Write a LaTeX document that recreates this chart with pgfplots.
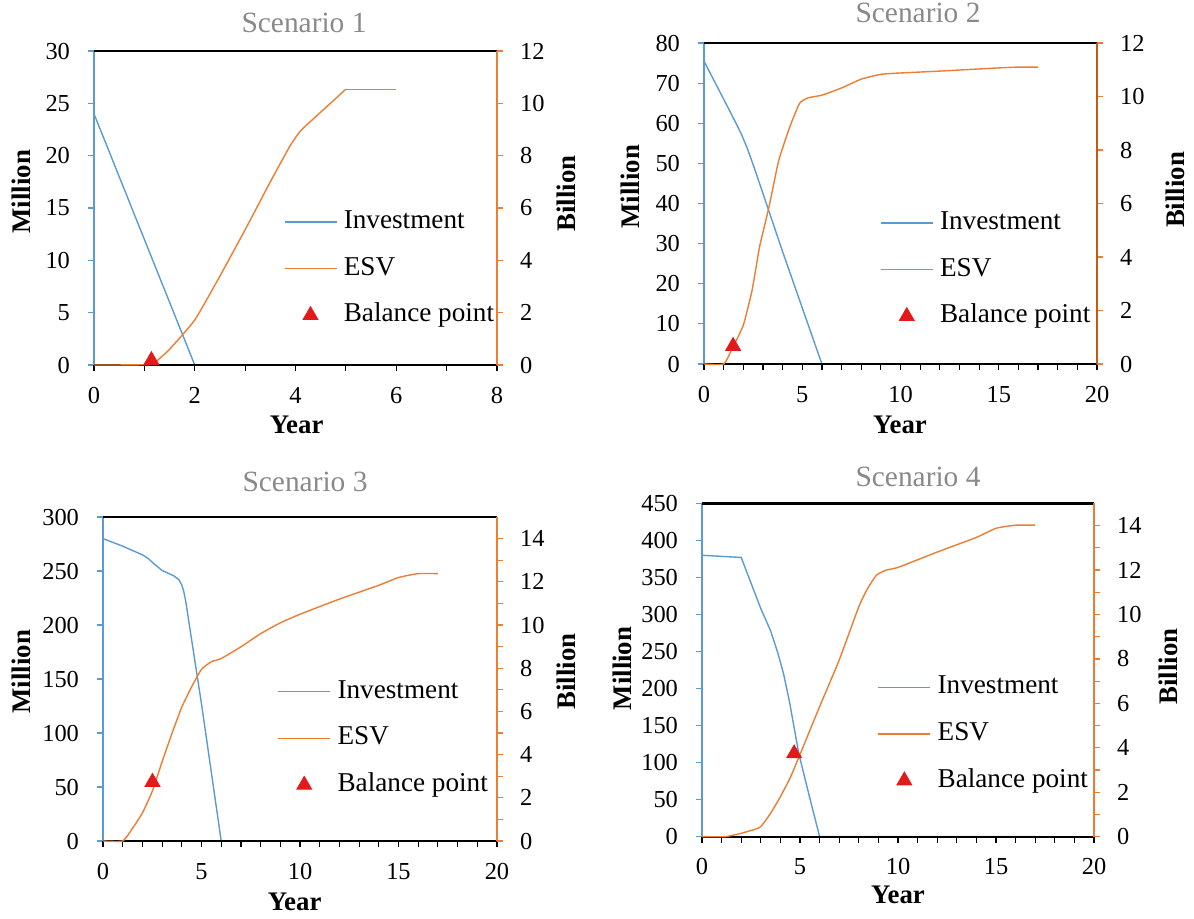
\documentclass[border=0pt]{standalone}
\usepackage{fontspec}
\setmainfont{Liberation Serif}
\usepackage{pgfplots}
\pgfplotsset{compat=1.18}
\definecolor{invblue}{RGB}{91,155,213}
\definecolor{esvorange}{RGB}{237,125,49}
\definecolor{darkor}{RGB}{197,90,17}
\definecolor{balred}{RGB}{227,26,28}
\definecolor{titlegray}{RGB}{137,137,137}
\pgfplotsset{
  base/.style={scale only axis, anchor=south west, tick align=outside,
    major tick length=3pt, minor tick length=3pt,
    /pgf/number format/assume math mode=true,
    ticklabel style={font=\fontsize{12.2}{14}\selectfont},
    clip=false},
  leftax/.style={base, axis x line=none, axis y line*=left,
    y axis line style={draw=invblue, line width=1pt},
    ytick style={draw=invblue, line width=0.6pt},
    yticklabel style={xshift=-5.5pt}},
  rightax/.style={base, axis x line=box, axis y line*=right,
    xtick pos=left, xticklabel pos=left,
    x axis line style={draw=black, line width=1.1pt},
    xtick style={draw=black, line width=0.6pt},
    y axis line style={draw=esvorange, line width=0.8pt},
    ytick style={draw=esvorange, line width=0.6pt},
    xticklabel style={yshift=-4.5pt},
    yticklabel style={xshift=5pt},
    legend cell align=left,
    legend style={draw=none, fill=none, inner sep=0pt, anchor=west,
      row sep=10.8pt, font=\fontsize{13.6}{16}\selectfont,
      nodes={inner sep=0pt, text height=9.5pt, text depth=3pt},
      /tikz/every odd column/.append style={column sep=3.3pt}}},
  invline/.style={color=invblue, line width=0.7pt, sharp plot,
    legend image code/.code={\draw[##1] (0pt,0pt) -- (26pt,0pt);}},
  esvline/.style={color=esvorange, line width=0.7pt, smooth, tension=0.3,
    legend image code/.code={\draw[##1] (0pt,0pt) -- (26pt,0pt);}},
  balmark/.style={only marks, mark=triangle*, mark size=4.3pt,
    mark options={fill=balred, draw=balred},
    legend image code/.code={\draw[##1] plot coordinates {(13pt,0pt)};}},
}
\newcommand{\ttl}[2]{\node[font=\fontsize{14.7}{17}\selectfont, text=titlegray] at (#1) {#2};}
\newcommand{\lab}[3]{\node[font=\fontsize{13.4}{16}\selectfont\bfseries, rotate=#3] at (#1) {#2};}
\begin{document}
\begin{tikzpicture}
\useasboundingbox (0pt,0pt) rectangle (597pt,-459pt);

% ---------------- Scenario 1 ----------------
\begin{axis}[leftax, at={(47pt,-182.5pt)}, width=201.5pt, height=157pt,
  xmin=0, xmax=8, ymin=0, ymax=30, ytick={0,5,...,30}]
\addplot[invline] coordinates {(0,24) (1,12) (2,0) (3,0) (4,0) (5,0) (6,0)};
\end{axis}
\begin{axis}[rightax, at={(47pt,-182.5pt)}, width=201.5pt, height=157pt,
  xmin=0, xmax=8, ymin=0, ymax=12, xtick={0,2,...,8}, minor x tick num=1,
  ytick={0,2,...,12}, legend style={at={(0.47,0.307)}}]
\addlegendimage{invline}
\addlegendentry{Investment}
\addplot[esvline] coordinates {(0,0) (1.1,0.02) (1.3,0.25) (1.5,0.6) (2,1.72) (2.5,3.4) (3,5.17) (3.5,7.0) (3.9,8.4) (4.1,8.95) (4.35,9.4) (5,10.54)};
\addlegendentry{ESV}
\addplot[esvline, forget plot, sharp plot] coordinates {(5,10.54) (6,10.54)};
\addplot[balmark] coordinates {(1.14,0.18)};
\addlegendentry{Balance point}
\end{axis}

% ---------------- Scenario 2 ----------------
\begin{axis}[leftax, at={(352pt,-182pt)}, width=196.5pt, height=160.5pt,
  xmin=0, xmax=20, ymin=0, ymax=80, ytick={0,10,...,80}]
\addplot[invline] coordinates {(0,75.5) (1,66) (1.6,60.3) (1.9,57.3) (2.2,53.8) (2.6,48.3) (3,42.5) (4,28) (5,14) (6,0) (10,0) (17,0)};
\end{axis}
\begin{axis}[rightax, at={(352pt,-182pt)}, width=196.5pt, height=160.5pt,
  xmin=0, xmax=20, ymin=0, ymax=12, xtick={0,5,...,20}, minor x tick num=4,
  ytick={0,2,...,12}, y axis line style={draw=darkor},
  legend style={at={(0.447,0.294)}}]
\addlegendimage{invline}
\addlegendentry{Investment}
\addplot[esvline] coordinates {(0,0) (1,0) (1.4,0.53) (2,1.45) (2.45,2.77) (2.83,4.39) (3.31,5.88) (3.8,7.6) (4.37,8.87) (4.86,9.74) (5.3,9.95) (6,10.05) (7,10.32) (8,10.65) (9,10.83) (10,10.88) (12,10.95) (15,11.07) (16,11.1) (17,11.1)};
\addlegendentry{ESV}
\addplot[balmark] coordinates {(1.48,0.67)};
\addlegendentry{Balance point}
\end{axis}

% ---------------- Scenario 3 ----------------
\begin{axis}[leftax, at={(51.5pt,-420.5pt)}, width=197pt, height=162pt,
  xmin=0, xmax=20, ymin=0, ymax=300, ytick={0,50,...,300}]
\addplot[invline] coordinates {(0,280) (1,273) (2,265) (2.3,261.5) (2.6,256.5) (3,250.5) (3.3,248) (3.6,245.5) (3.85,242) (4,237) (4.1,231) (4.2,222) (4.3,210) (4.4,198) (5,127) (6,0) (10,0) (17,0)};
\end{axis}
\begin{axis}[rightax, at={(51.5pt,-420.5pt)}, width=197pt, height=162pt,
  xmin=0, xmax=20, ymin=0, ymax=15, xtick={0,5,...,20}, minor x tick num=4,
  ytick={0,2,...,14}, minor y tick num=1,
  legend style={at={(0.442,0.317)}}]
\addlegendimage{invline}
\addlegendentry{Investment}
\addplot[esvline] coordinates {(0,0) (1,0) (1.5,0.59) (2,1.3) (2.5,2.3) (3,3.67) (3.5,4.98) (4,6.2) (4.5,7.14) (5,7.95) (5.5,8.3) (6,8.45) (7,8.99) (8,9.6) (9,10.1) (10,10.5) (12,11.2) (14,11.84) (15,12.2) (16,12.38) (17,12.38)};
\addlegendentry{ESV}
\addplot[balmark] coordinates {(2.51,2.73)};
\addlegendentry{Balance point}
\end{axis}

% ---------------- Scenario 4 ----------------
\begin{axis}[leftax, at={(351pt,-418.3pt)}, width=196pt, height=166.6pt,
  xmin=0, xmax=20, ymin=0, ymax=450, ytick={0,50,...,450}]
\addplot[invline] coordinates {(0,380) (2,377) (3,308) (3.5,278) (3.87,248) (4.16,220) (4.45,184) (4.94,112) (5.5,52) (6,0) (10,0) (17,0)};
\end{axis}
\begin{axis}[rightax, at={(351pt,-418.3pt)}, width=196pt, height=166.6pt,
  xmin=0, xmax=20, ymin=0, ymax=15, xtick={0,5,...,20}, minor x tick num=4,
  ytick={0,2,...,14}, minor y tick num=1,
  legend style={at={(0.447,0.308)}}]
\addlegendimage{invline}
\addlegendentry{Investment}
\addplot[esvline] coordinates {(0,0) (1.2,0) (2,0.15) (2.7,0.33) (3,0.45) (3.5,1.05) (4,1.8) (4.5,2.65) (5,3.7) (6,5.85) (7,7.95) (8,10.35) (8.45,11.17) (8.9,11.77) (9.4,12.0) (10,12.12) (12,12.81) (14,13.47) (15,13.88) (16,14.02) (17,14.02)};
\addlegendentry{ESV}
\addplot[balmark] coordinates {(4.7,3.74)};
\addlegendentry{Balance point}
\end{axis}

% ---------------- titles and labels ----------------
\ttl{152pt,-11.5pt}{Scenario 1}
\ttl{459pt,-6.7pt}{Scenario 2}
\ttl{152.5pt,-240.8pt}{Scenario 3}
\ttl{459pt,-238.3pt}{Scenario 4}
\lab{148.3pt,-212.5pt}{Year}{0}
\lab{450pt,-212.5pt}{Year}{0}
\lab{147.3pt,-450.8pt}{Year}{0}
\lab{449pt,-447.5pt}{Year}{0}
\lab{10.5pt,-95.8pt}{Million}{90}
\lab{315pt,-93.3pt}{Million}{90}
\lab{10.5pt,-335.8pt}{Million}{90}
\lab{311.4pt,-334.2pt}{Million}{90}
\lab{283.2pt,-96.7pt}{Billion}{90}
\lab{587.9pt,-95pt}{Billion}{90}
\lab{283.2pt,-335.8pt}{Billion}{90}
\lab{584pt,-333.3pt}{Billion}{90}
\end{tikzpicture}
\end{document}
